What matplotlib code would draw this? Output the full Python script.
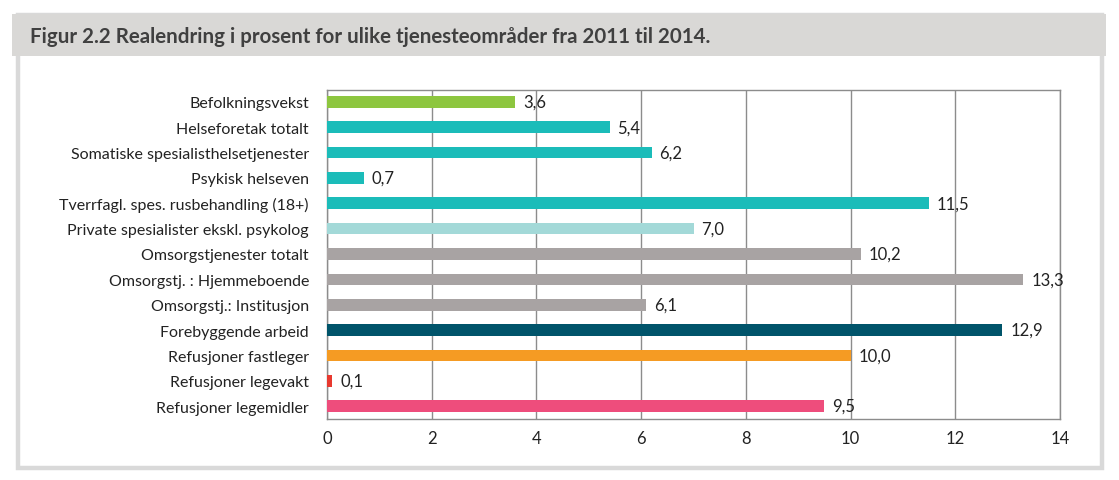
import matplotlib
matplotlib.use("Agg")
import matplotlib.pyplot as plt
from matplotlib.patches import Rectangle

plt.rcParams['font.family'] = ['Lato', 'DejaVu Sans']

categories = [
    "Befolkningsvekst",
    "Helseforetak totalt",
    "Somatiske spesialisthelsetjenester",
    "Psykisk helseven",
    "Tverrfagl. spes. rusbehandling (18+)",
    "Private spesialister ekskl. psykolog",
    "Omsorgstjenester totalt",
    "Omsorgstj. : Hjemmeboende",
    "Omsorgstj.: Institusjon",
    "Forebyggende arbeid",
    "Refusjoner fastleger",
    "Refusjoner legevakt",
    "Refusjoner legemidler",
]
values = [3.6, 5.4, 6.2, 0.7, 11.5, 7.0, 10.2, 13.3, 6.1, 12.9, 10.0, 0.1, 9.5]
colors = ["#8dc63f", "#1bbcb9", "#1bbcb9", "#1bbcb9", "#1bbcb9", "#a3d9d8",
          "#a8a3a3", "#a8a3a3", "#a8a3a3", "#00546a", "#f59b23", "#e8392f", "#ee4d7c"]
xticks = [0, 2, 4, 6, 8, 10, 12, 14]
title = "Figur 2.2 Realendring i prosent for ulike tjenesteområder fra 2011 til 2014."

W, H = 1119, 481
fig = plt.figure(figsize=(W / 100, H / 100), dpi=100)

# outer frame and title band
frame = Rectangle((18 / W, 1 - 469 / H), (1102 - 18) / W, (469 - 16) / H,
                  transform=fig.transFigure, fill=False, edgecolor="#d9d9d9",
                  linewidth=3.2, zorder=0)
fig.patches.append(frame)
band = Rectangle((12 / W, 1 - 57 / H), (1106 - 12) / W, (57 - 15) / H,
                 transform=fig.transFigure, facecolor="#d9d8d6", edgecolor="none", zorder=1)
fig.patches.append(band)
fig.text(30 / W, 1 - 37 / H, title, fontsize=14.8, fontweight="bold", color="#404040",
         va="center", ha="left")

ax = fig.add_axes([327 / W, 1 - 420 / H, (1060 - 327) / W, (420 - 91) / H])
ypos = list(range(len(categories)))
ax.barh(ypos, values, height=0.46, color=colors, zorder=3)
ax.set_xlim(0, 14)
ax.set_ylim(12.51, -0.47)
ax.set_xticks(xticks)
ax.set_xticklabels([str(t) for t in xticks], fontsize=12, color="#222222")
ax.set_yticks(ypos)
ax.set_yticklabels(categories, fontsize=11.5, color="#222222")
ax.tick_params(axis="both", length=0)
ax.tick_params(axis="y", pad=13)
ax.tick_params(axis="x", pad=8)
ax.grid(axis="x", color="#8c8c8c", linewidth=1.0, zorder=0)
for s in ax.spines.values():
    s.set_color("#8c8c8c")
    s.set_linewidth(1.0)

for y, v in zip(ypos, values):
    ax.text(v + 0.15, y, f"{v:.1f}".replace(".", ","), va="center", ha="left",
            fontsize=12, color="#222222", zorder=4)

fig.savefig("out.png", dpi=100)
